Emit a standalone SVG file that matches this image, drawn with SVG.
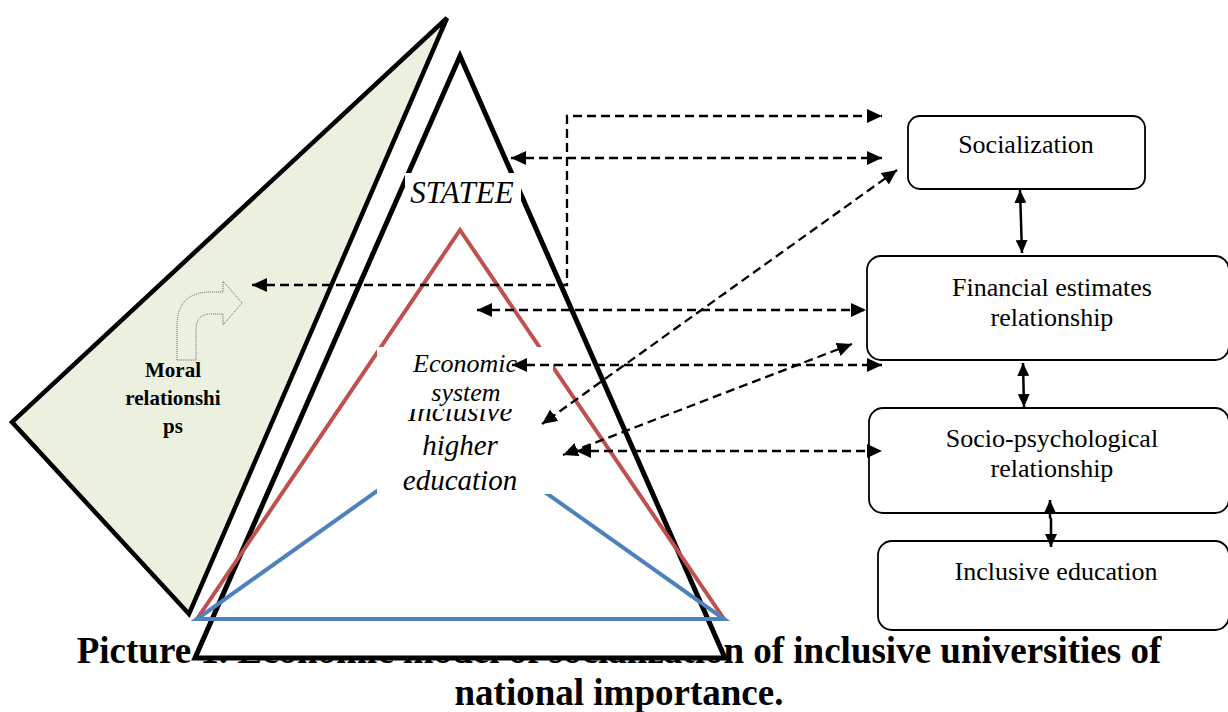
<svg xmlns="http://www.w3.org/2000/svg" width="1228" height="712" viewBox="0 0 1228 712">
<defs>
<style>
.cap{font-family:"Liberation Serif","Times New Roman",serif;font-weight:bold;font-size:37px;fill:#000}
.it{font-family:"Liberation Serif","Times New Roman",serif;font-style:italic;fill:#000}
.bx{fill:#fff;stroke:#000;stroke-width:1.8}
.bt{font-family:"Liberation Serif","Times New Roman",serif;font-size:26px;fill:#000}
.mt{font-family:"Liberation Serif","Times New Roman",serif;font-weight:bold;font-size:21px;fill:#000}
.dash{fill:none;stroke:#000;stroke-width:2.3;stroke-dasharray:9 5;marker-start:url(#ah);marker-end:url(#ah)}
.sol{fill:none;stroke:#000;stroke-width:2.5;marker-start:url(#ah2);marker-end:url(#ah2)}
.mask{fill:#fff;stroke:none}
</style>
<marker id="ah" viewBox="0 0 15 14" refX="15" refY="7" markerWidth="15" markerHeight="14" markerUnits="userSpaceOnUse" orient="auto-start-reverse">
<path d="M0,0 L15,7 L0,14 Z" fill="#000"/>
</marker>
<marker id="ah2" viewBox="0 0 13 12" refX="13" refY="6" markerWidth="13" markerHeight="12" markerUnits="userSpaceOnUse" orient="auto-start-reverse">
<path d="M0,0 L13,6 L0,12 Z" fill="#000"/>
</marker>
</defs>
<rect width="1228" height="712" fill="#fff"/>
<g id="caption">
<text class="cap" x="619" y="663" text-anchor="middle">Picture 1. Economic model of socialization of inclusive universities of</text>
<text class="cap" x="619" y="705" text-anchor="middle">national importance.</text>
</g>
<g id="moral">
<path d="M447,18 L12,422 L189,614 Z" fill="#ebf1de" stroke="#000" stroke-width="4.5"/>
<path d="M177,360 L177,326 Q177,292 211,292 L223,292 L223,281 L242,303 L223,325 L223,314 L211,314 Q196,314 196,330 L196,360 Z" fill="#ebf1de" stroke="#444" stroke-width="0.8" stroke-dasharray="1 1"/>
<text class="mt" x="173" y="377" text-anchor="middle">Moral</text>
<text class="mt" x="173" y="405" text-anchor="middle">relationshi</text>
<text class="mt" x="173" y="433" text-anchor="middle">ps</text>
</g>
<g id="state">
<path d="M460,56 L195,658 L725,658 Z" fill="#fff" stroke="#000" stroke-width="5"/>
<rect class="mask" x="405" y="173" width="116" height="40"/>
<text class="it" x="462" y="203" font-size="31" text-anchor="middle">STATEE</text>
</g>
<g id="economic-system">
<path d="M460,230 L197,619 L724,619 Z" fill="none" stroke="#c0504d" stroke-width="4"/>
</g>
<g id="inclusive-higher-education">
<path d="M460,432 L197,619 L724,619 Z" fill="none" stroke="#4f81bd" stroke-width="4"/>
<rect class="mask" x="377" y="400" width="176" height="94"/>
<text class="it" x="460" y="421" font-size="29" text-anchor="middle">Inclusive</text>
<text class="it" x="460" y="455" font-size="29" text-anchor="middle">higher</text>
<text class="it" x="460" y="490" font-size="29" text-anchor="middle">education</text>
</g>
<g id="economic-label">
<rect class="mask" x="377" y="347" width="176" height="62"/>
<text class="it" x="465" y="372" font-size="26" text-anchor="middle">Economic</text>
<text class="it" x="466" y="401" font-size="26" text-anchor="middle">system</text>
</g>
<g id="socialization">
<rect class="bx" x="908" y="116" width="237" height="73" rx="12"/>
<text class="bt" x="1026" y="153" text-anchor="middle">Socialization</text>
</g>
<g id="financial">
<rect class="bx" x="867" y="256" width="362" height="104" rx="14"/>
<text class="bt" x="1052" y="296" text-anchor="middle">Financial estimates</text>
<text class="bt" x="1052" y="326" text-anchor="middle">relationship</text>
</g>
<g id="socio-psychological">
<rect class="bx" x="869" y="408" width="360" height="105" rx="14"/>
<text class="bt" x="1052" y="447" text-anchor="middle">Socio-psychological</text>
<text class="bt" x="1052" y="477" text-anchor="middle">relationship</text>
</g>
<g id="inclusive-education">
<rect class="bx" x="878" y="541" width="351" height="89" rx="14"/>
<text class="bt" x="1056" y="580" text-anchor="middle">Inclusive education</text>
</g>
<g id="connectors">
<path class="dash" d="M252,285 H567 V116 H882"/>
<path class="dash" d="M511,158 H882"/>
<path class="dash" d="M897,170 L542,424"/>
<path class="dash" d="M477,310 H866"/>
<path class="dash" d="M512,365 H882"/>
<path class="dash" d="M852,344 L563,455"/>
<path class="dash" d="M576,451 H882"/>
<path class="sol" d="M1020,190 L1022,253"/>
<path class="sol" d="M1023,363 L1024,407"/>
<path class="sol" d="M1050,500 L1050,517 L1051,519 L1051,547"/>
</g>
</svg>
